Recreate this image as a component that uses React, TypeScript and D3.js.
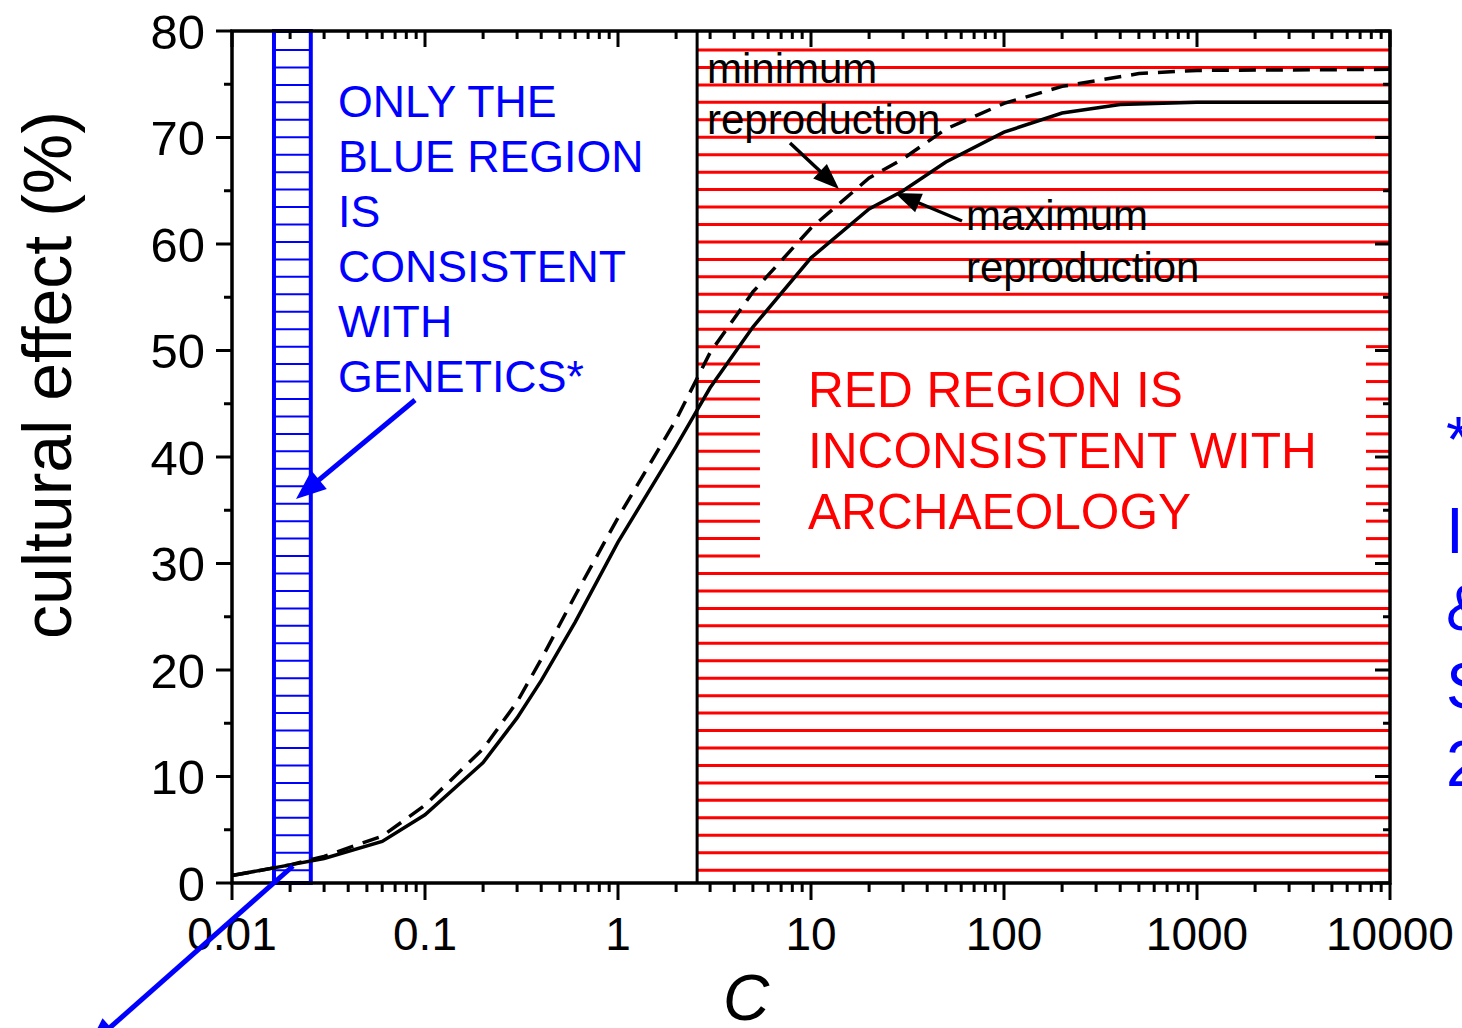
import React from "react";
import * as d3 from "d3";

// ---- data ----
const xTickValues = [0.01, 0.1, 1, 10, 100, 1000, 10000];
const xTickLabels = ["0.01", "0.1", "1", "10", "100", "1000", "10000"];
const yTickValues = [0, 10, 20, 30, 40, 50, 60, 70, 80];

const maxC = [0.01, 0.02, 0.03, 0.06, 0.1, 0.2, 0.3, 0.4, 0.6, 1, 2, 3, 5, 10, 20, 30, 50, 100, 200, 400, 1000, 10000];
const maxEffect = [0.7, 1.7, 2.3, 3.9, 6.4, 11.3, 15.5, 19, 24.5, 32, 41, 46.5, 52.2, 58.7, 63.3, 65, 67.7, 70.5, 72.3, 73.1, 73.3, 73.3];

const minC = [0.01, 0.02, 0.03, 0.06, 0.1, 0.2, 0.3, 0.4, 0.6, 1, 2, 3, 5, 10, 20, 30, 50, 100, 200, 500, 1000, 10000];
const minEffect = [0.7, 1.7, 2.5, 4.4, 7.3, 12.6, 17, 21, 27, 34.3, 43.5, 49.8, 55.5, 61.5, 66.2, 68, 70.8, 73.2, 74.8, 76, 76.3, 76.4];

const blueRegion = [0.0165, 0.0256];
const redRegion = [2.57, 10000];
const redTextBoxC = [5.44, 7510];
const redTextBoxY = [29.9, 51.2];

const blueText = ["ONLY THE", "BLUE REGION", "IS", "CONSISTENT", "WITH", "GENETICS*"];
const redText = ["RED REGION IS", "INCONSISTENT WITH", "ARCHAEOLOGY"];
const minLabel = ["minimum", "reproduction"];
const maxLabel = ["maximum", "reproduction"];
const sideText = ["*", "I", "&", "S", "2"];

const W = 1462;
const H = 1028;
const L = 232, R = 1390, T = 31, B = 883;
const FONT = "'Liberation Sans', Arial, sans-serif";

function Arrow({ x1, y1, x2, y2, color, width, headLen, headW }: any) {
  const dx = x2 - x1, dy = y2 - y1;
  const len = Math.hypot(dx, dy);
  const ux = dx / len, uy = dy / len;
  const bx = x2 - ux * headLen, by = y2 - uy * headLen;
  const px = -uy, py = ux;
  const pts = [
    [x2, y2],
    [bx + px * headW / 2, by + py * headW / 2],
    [bx - px * headW / 2, by - py * headW / 2],
  ];
  return (
    <g>
      <line x1={x1} y1={y1} x2={bx + ux * 2} y2={by + uy * 2} stroke={color} strokeWidth={width} />
      <polygon points={pts.map((p) => p.join(",")).join(" ")} fill={color} />
    </g>
  );
}

export default function App() {
  const x = d3.scaleLog().domain([0.01, 10000]).range([L, R]);
  const y = d3.scaleLinear().domain([0, 80]).range([B, T]);

  const line = d3
    .line<[number, number]>()
    .x((d) => x(d[0]))
    .y((d) => y(d[1]));
  const maxPts = maxC.map((c, i) => [c, maxEffect[i]] as [number, number]);
  const minPts = minC.map((c, i) => [c, minEffect[i]] as [number, number]);

  const minorX: number[] = [];
  for (let i = 0; i < xTickValues.length - 1; i++) {
    for (let m = 2; m <= 9; m++) minorX.push(xTickValues[i] * m);
  }
  const minorY: number[] = [];
  for (let i = 0; i < yTickValues.length - 1; i++) minorY.push(yTickValues[i] + 5);

  const hatchStep = 17.45;
  const hatchYs: number[] = [];
  for (let yy = T + 19; yy < B - 5; yy += hatchStep) hatchYs.push(yy);

  const bx0 = x(blueRegion[0]), bx1 = x(blueRegion[1]);
  const rx0 = x(redRegion[0]), rx1 = x(redRegion[1]);
  const boxX0 = x(redTextBoxC[0]), boxX1 = x(redTextBoxC[1]);
  const boxY0 = y(redTextBoxY[1]), boxY1 = y(redTextBoxY[0]);

  const red = "#ff0000";
  const blue = "#0000ff";

  return (
    <svg
      width={W}
      height={H}
      style={{ position: "fixed", left: 0, top: 0, background: "#fff" }}
      fontFamily={FONT}
    >
      <rect x={0} y={0} width={W} height={H} fill="#fff" />

      {/* red region hatch */}
      {hatchYs.map((yy, i) => {
        const inBox = yy > boxY0 && yy < boxY1;
        return inBox ? (
          <g key={"h" + i}>
            <line x1={rx0} x2={boxX0} y1={yy} y2={yy} stroke={red} strokeWidth={3} />
            <line x1={boxX1} x2={rx1} y1={yy} y2={yy} stroke={red} strokeWidth={3} />
          </g>
        ) : (
          <line key={"h" + i} x1={rx0} x2={rx1} y1={yy} y2={yy} stroke={red} strokeWidth={3} />
        );
      })}
      <line x1={rx0} x2={rx0} y1={T} y2={B} stroke="#000" strokeWidth={3} />

      {/* blue region */}
      {hatchYs.map((yy, i) => (
        <line key={"b" + i} x1={bx0} x2={bx1} y1={yy} y2={yy} stroke={blue} strokeWidth={2} />
      ))}
      <rect x={bx0} y={T} width={bx1 - bx0} height={B - T} fill="none" stroke={blue} strokeWidth={4} />

      {/* curves */}
      <path d={line(minPts) || ""} fill="none" stroke="#000" strokeWidth={3.5} strokeDasharray="17 10" />
      <path d={line(maxPts) || ""} fill="none" stroke="#000" strokeWidth={3.5} />

      {/* frame */}
      <rect x={L} y={T} width={R - L} height={B - T} fill="none" stroke="#000" strokeWidth={3.5} />

      {/* bottom ticks (outward) & top ticks (inward) */}
      {xTickValues.map((v, i) => (
        <g key={"xt" + i}>
          <line x1={x(v)} x2={x(v)} y1={B} y2={B + 17} stroke="#000" strokeWidth={3} />
          <line x1={x(v)} x2={x(v)} y1={T} y2={T + 16} stroke="#000" strokeWidth={3} />
          <text x={x(v)} y={950} fontSize={46} textAnchor="middle" fill="#000">
            {xTickLabels[i]}
          </text>
        </g>
      ))}
      {minorX.map((v, i) => (
        <g key={"xm" + i}>
          <line x1={x(v)} x2={x(v)} y1={B} y2={B + 9} stroke="#000" strokeWidth={3} />
          <line x1={x(v)} x2={x(v)} y1={T} y2={T + 8} stroke="#000" strokeWidth={3} />
        </g>
      ))}

      {/* left ticks (outward) & right ticks (inward) */}
      {yTickValues.map((v, i) => (
        <g key={"yt" + i}>
          <line x1={L - 16} x2={L} y1={y(v)} y2={y(v)} stroke="#000" strokeWidth={3} />
          <line x1={R - 15} x2={R} y1={y(v)} y2={y(v)} stroke="#000" strokeWidth={3} />
          <text x={205} y={y(v)} dy="0.36em" fontSize={49} textAnchor="end" fill="#000">
            {v}
          </text>
        </g>
      ))}
      {minorY.map((v, i) => (
        <g key={"ym" + i}>
          <line x1={L - 8} x2={L} y1={y(v)} y2={y(v)} stroke="#000" strokeWidth={3} />
          <line x1={R - 7} x2={R} y1={y(v)} y2={y(v)} stroke="#000" strokeWidth={3} />
        </g>
      ))}

      {/* axis titles */}
      <text transform={`translate(71,${375}) rotate(-90)`} fontSize={68} textAnchor="middle" fill="#000">
        cultural effect (%)
      </text>
      <text x={746} y={1020} fontSize={64} fontStyle="italic" textAnchor="middle" fill="#000">
        C
      </text>

      {/* annotations */}
      {blueText.map((t, i) => (
        <text key={"bt" + i} x={338} y={117 + i * 55} fontSize={44.7} fill={blue}>
          {t}
        </text>
      ))}
      {redText.map((t, i) => (
        <text key={"rt" + i} x={808} y={407 + i * 61} fontSize={49.6} fill={red}>
          {t}
        </text>
      ))}
      {minLabel.map((t, i) => (
        <text key={"mn" + i} x={707} y={83 + i * 51} fontSize={42} fill="#000">
          {t}
        </text>
      ))}
      {maxLabel.map((t, i) => (
        <text key={"mx" + i} x={966} y={230 + i * 52} fontSize={42} fill="#000">
          {t}
        </text>
      ))}
      {sideText.map((t, i) => (
        <text key={"st" + i} x={1446} y={[462, 553, 630, 708, 786][i]} fontSize={64} fill={blue}>
          {t}
        </text>
      ))}

      {/* arrows */}
      <Arrow x1={790} y1={143} x2={839} y2={189} color="#000" width={3.5} headLen={26} headW={20} />
      <Arrow x1={962} y1={221} x2={895} y2={193} color="#000" width={3.5} headLen={26} headW={20} />
      <Arrow x1={415} y1={400} x2={296} y2={499} color={blue} width={5} headLen={30} headW={24} />
      <Arrow x1={293} y1={866} x2={88} y2={1047} color={blue} width={5} headLen={30} headW={24} />
    </svg>
  );
}
